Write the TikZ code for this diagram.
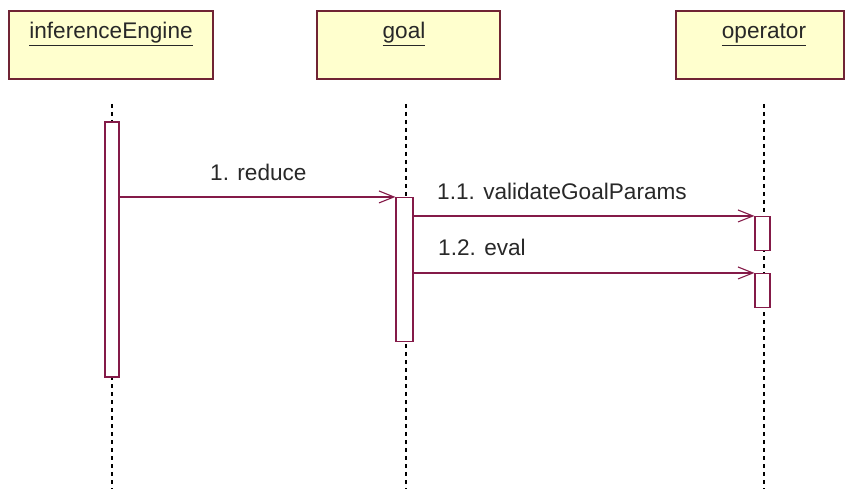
\documentclass[tikz,border=0pt]{standalone}
\usepackage{fontspec}
\setmainfont{Liberation Sans}
\usetikzlibrary{arrows.meta}
\definecolor{umlline}{RGB}{132,26,72}
\definecolor{umlframe}{RGB}{112,36,52}
\definecolor{umlfill}{RGB}{255,255,206}
\definecolor{umltext}{RGB}{40,40,40}
\tikzset{
  objbox/.style={draw=umlframe, line width=1.3pt, fill=umlfill, inner sep=0pt},
  actbox/.style={draw=umlline, line width=1.1pt, fill=white, inner sep=0pt},
  lifeline/.style={black, line width=1.1pt, dash pattern=on 4pt off 4pt},
  msg/.style={umlline, line width=1.3pt, -{Straight Barb[length=15pt,width=12pt,line width=1.1pt]}},
  lbl/.style={font=\fontsize{22.6}{24}\selectfont, text=umltext, inner sep=0pt, anchor=base west},
  title/.style={font=\fontsize{22.6}{24}\selectfont, text=umltext, inner sep=0pt, anchor=base}
}
\begin{document}
\begin{tikzpicture}[x=1pt,y=-1pt]
\useasboundingbox (0,0) rectangle (845,489);
% lifelines
\coordinate (ieTop) at (112,104);
\coordinate (ieBot) at (112,489);
\coordinate (gTop) at (406,104);
\coordinate (gBot) at (406,489);
\coordinate (oTop) at (764,104);
\coordinate (oBot) at (764,489);
\draw[lifeline] (ieTop) -- (ieBot);
\draw[lifeline] (gTop) -- (gBot);
\draw[lifeline] (oTop) -- (oBot);
% object boxes
\node[objbox, minimum width=204pt, minimum height=68pt] (ie) at (111,45) {};
\node[objbox, minimum width=183pt, minimum height=68pt] (goal) at (408.5,45) {};
\node[objbox, minimum width=168pt, minimum height=68pt] (op) at (760,45) {};
\node[title] (ieT) at (111,39) {\underline{inferenceEngine}};
\node[title] (goalT) at (404,39) {\underline{goal}};
\node[title] (opT) at (764,39) {\underline{operator}};
% activations
\node[actbox, minimum width=14pt, minimum height=255pt] (ieA) at (112,249.5) {};
\node[actbox, minimum width=17pt, minimum height=144pt] (gA) at (404.5,269.5) {};
\node[actbox, minimum width=15pt, minimum height=34pt] (oA1) at (762.5,233.5) {};
\node[actbox, minimum width=15pt, minimum height=34pt] (oA2) at (762.5,290.5) {};
% messages
\draw[msg] (ieA.east |- gA.north) -- (gA.north west);
\draw[msg] (gA.east |- oA1.north) -- (oA1.north west);
\draw[msg] (gA.east |- oA2.north) -- (oA2.north west);
% labels
\node[lbl] (l1) at (210,180) {1. reduce};
\node[lbl] (l2) at (437,199) {1.1. validateGoalParams};
\node[lbl] (l3) at (438,255) {1.2. eval};
\end{tikzpicture}
\end{document}
